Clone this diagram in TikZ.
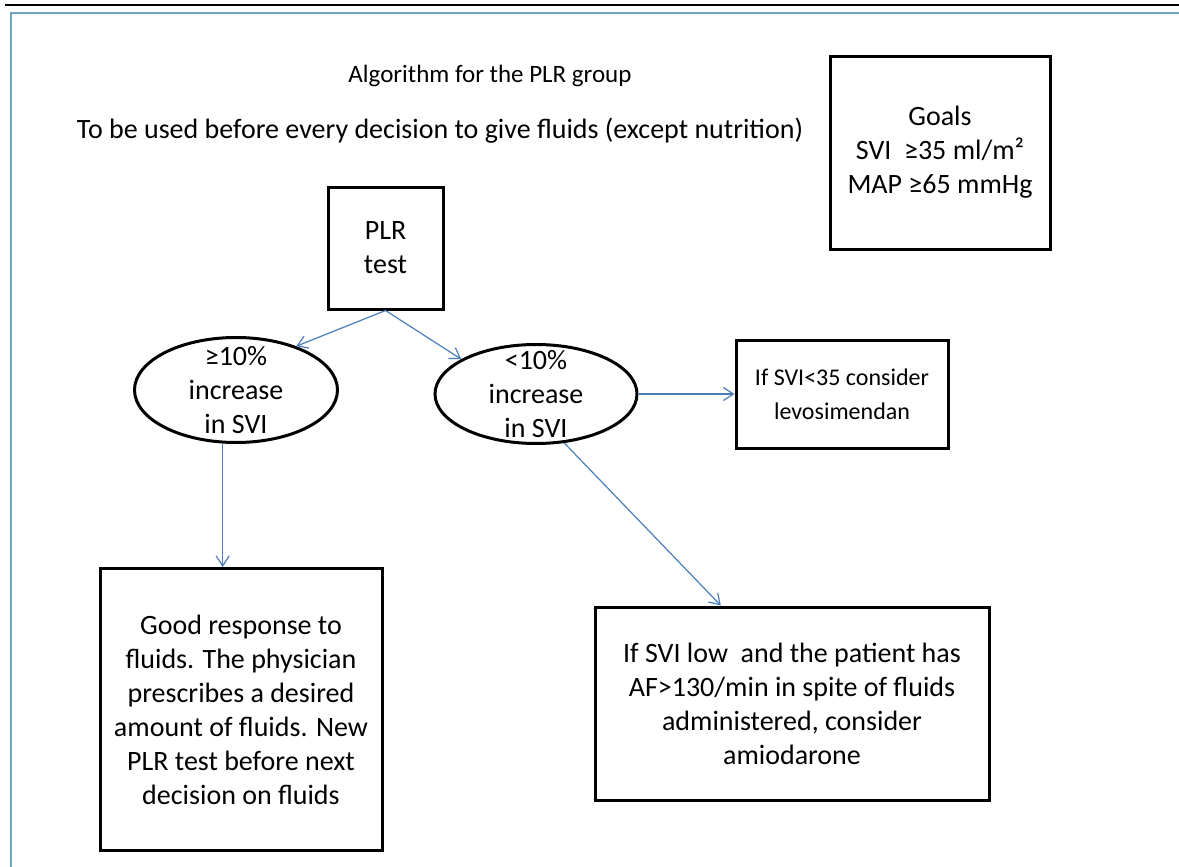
\documentclass[tikz,border=0pt]{standalone}
\usepackage{fontspec}
\setmainfont{Carlito}
\usetikzlibrary{positioning,shapes.geometric,arrows.meta}
\definecolor{plrBlue}{HTML}{4A7EBB}
\definecolor{plrFrame}{HTML}{6FA3C2}

\begin{document}
\begin{tikzpicture}[x=0.5pt,y=-0.5pt,>={Straight Barb[length=5pt,width=6.5pt]},
  every node/.style={font=\fontsize{14}{17}\selectfont}]
  \tikzstyle{box}=[draw,line width=1.5pt,align=center,inner sep=0pt]
  \tikzstyle{oval}=[draw,ellipse,line width=1.5pt,inner sep=0pt]
  \tikzstyle{link}=[->,plrBlue,line width=0.6pt]
  \useasboundingbox (0,0) rectangle (1179,867);
  % page frame
  \draw[line width=1pt] (5,5) -- (1179,5);
  \draw[plrFrame,line width=1.2pt] (1179,13) -- (11,13) -- (11,867);
  % headings
  \node[font=\fontsize{12.5}{15}\selectfont] (title) at (490,76) {Algorithm for the PLR group};
  \node (sub) at (440,131) {To be used before every decision to give fluids (except nutrition)};
  \node[box,minimum width=110pt,minimum height=96.5pt] (goals) at (940,152.5) {Goals\\SVI~ ≥35 ml/m²\\MAP ≥65 mmHg};
  % flow
  \node[box,minimum width=57.5pt,minimum height=61pt] (plr) at (385.5,248) {PLR\\test};
  \node[oval,minimum width=101.5pt,minimum height=52.5pt,
    label={[align=center]center:≥10\%\\increase\\in SVI}] (more) at (236,390) {};
  \node[oval,minimum width=101pt,minimum height=49.5pt,
    label={[align=center]center:<10\%\\increase\\in SVI}] (less) at (536,394) {};
  \node[box,right=48pt of less,minimum width=106pt,minimum height=54pt,
    font=\fontsize{12}{17}\selectfont] (levo) {If SVI<35 consider\\levosimendan};
  \node[box,below=61.5pt of more,xshift=2.5pt,minimum width=141pt,minimum height=141pt] (good) {Good response to\\fluids. The physician\\prescribes a desired\\amount of fluids. New\\PLR test before next\\decision on fluids};
  \node[box,minimum width=197pt,minimum height=96.5pt] (amio) at (792,703.5) {If SVI low~ and the patient has\\AF>130/min in spite of fluids\\administered, consider\\amiodarone};
  \draw[link] (plr.south) -- (more.36);
  \draw[link] (plr.south) -- (less.155);
  \draw[link] (less.east) -- (less.east -| levo.west);
  \draw[link] (more.256) -- (more.256 |- good.north);
  \draw[link] (less.300) -- (amio.126);
\end{tikzpicture}
\end{document}
